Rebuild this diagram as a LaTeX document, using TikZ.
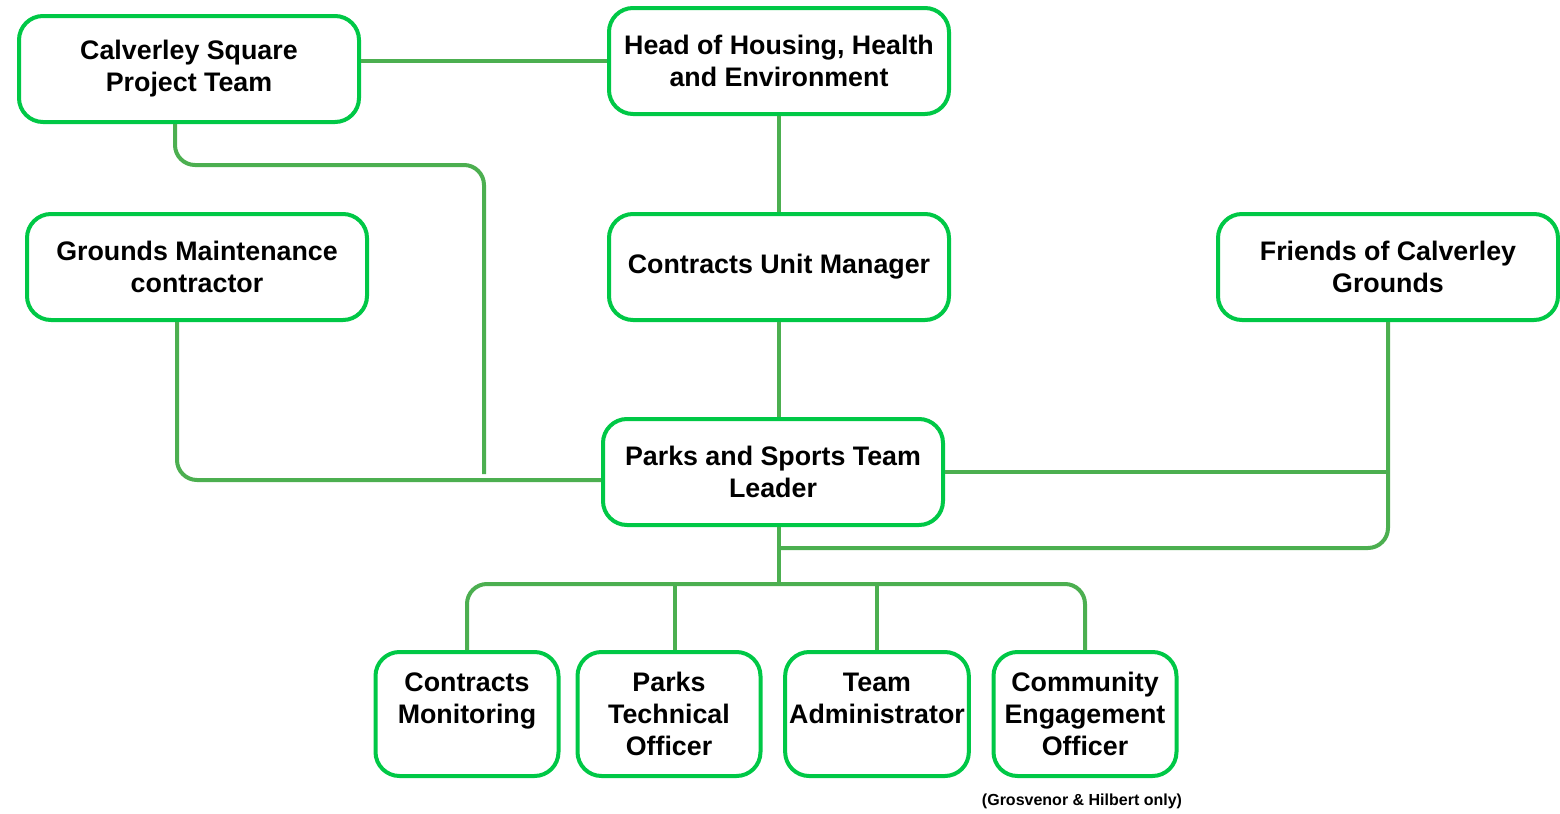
\documentclass[tikz,border=0pt]{standalone}
\usepackage{fontspec}
\setmainfont{Liberation Sans}
\usetikzlibrary{positioning}
\definecolor{boxgreen}{RGB}{0,200,70}
\definecolor{linegreen}{RGB}{76,175,80}
\tikzstyle{block} = [draw=boxgreen, line width=2pt, fill=white, rectangle, rounded corners=12pt, align=center, inner sep=2pt, font=\bfseries\fontsize{13.4}{16}\selectfont, minimum width=170pt, minimum height=53pt]
\tikzstyle{smallblock} = [block, minimum width=91.5pt, minimum height=62pt]
\tikzstyle{link} = [draw=linegreen, line width=2pt, rounded corners=10pt]

\begin{document}
\begin{tikzpicture}[x=0.5pt,y=-0.5pt,node distance=48pt]
  \useasboundingbox (0,0) rectangle (1560,814);
  \node [block] (head) at (779,61) {Head of Housing, Health\\and Environment};
  \node [block, below=of head] (cum) {Contracts Unit Manager};
  \node [block] (squareteam) at (189,69) {Calverley Square\\Project Team};
  \node [block] (grounds) at (197,267) {Grounds Maintenance\\contractor};
  \node [block] (friends) at (1388,267) {Friends of Calverley\\Grounds};
  \node [block] (leader) at (773,472) {Parks and Sports Team\\Leader};
  \node [smallblock] (monitoring) at (467,714) {Contracts\\Monitoring\\\mbox{}};
  \node [smallblock] (technical) at (669,714) {Parks\\Technical\\Officer};
  \node [smallblock] (admin) at (877,714) {Team\\Administrator\\\mbox{}};
  \node [smallblock] (engagement) at (1085,714) {Community\\Engagement\\Officer};
  \node [font=\bfseries\fontsize{8}{9}\selectfont] (note) at (1082,801) {(Grosvenor \& Hilbert only)};
  % connectors
  \coordinate (sqbend) at (484,165);
  \coordinate (sqend) at (484,474);
  \coordinate (back) at (779,548);
  \coordinate (bus) at (779,584);
  \draw [link] (squareteam.east |- head.west) -- (head.west);
  \draw [link] (head) -- (cum);
  \draw [link] (cum.south) -- (cum.south |- leader.north);
  \draw [link] ([xshift=-7pt]squareteam.south) |- (sqbend) -- (sqend);
  \draw [link] ([xshift=-10pt]grounds.south) |- ([yshift=-4pt]leader.west);
  \draw [link] (leader.east) -- (leader.east -| friends.south);
  \draw [link] (friends.south) |- (back);
  \draw [link] (leader.south -| bus) -- (bus);
  \draw [link] (monitoring.north) |- (bus) -| (engagement.north);
  \draw [link] ([xshift=3pt]technical.north |- bus) -- ([xshift=3pt]technical.north);
  \draw [link] (admin.north |- bus) -- (admin.north);
\end{tikzpicture}
\end{document}
